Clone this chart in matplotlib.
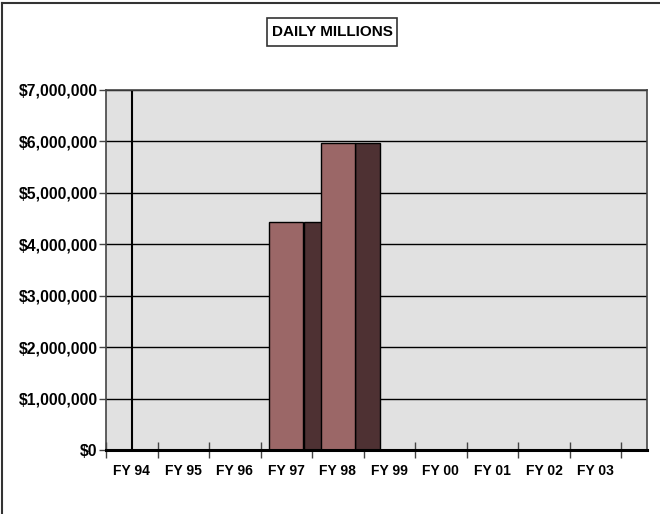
import matplotlib
matplotlib.use("Agg")
import matplotlib.pyplot as plt
from matplotlib.lines import Line2D
from matplotlib.patches import Rectangle
from matplotlib.ticker import FuncFormatter

# fiscal years on the category axis
years = ["FY 94", "FY 95", "FY 96", "FY 97", "FY 98",
         "FY 99", "FY 00", "FY 01", "FY 02", "FY 03"]
# daily millions sales, only FY 97 and FY 98 reported
sales_front = [0, 0, 0, 4440000, 5975000, 0, 0, 0, 0, 0]
sales_back = [0, 0, 0, 4440000, 5975000, 0, 0, 0, 0, 0]

plt.rcParams["font.family"] = ["Liberation Sans", "DejaVu Sans"]
plt.rcParams["font.weight"] = "bold"

fig = plt.figure(figsize=(6.6, 5.14), dpi=100)
ax = fig.add_axes([0.1606, 0.1245, 0.8197, 0.7005])
ax.set_facecolor("#e1e1e1")

x = list(range(len(years)))
# back series sits to the right and is partly hidden by the next front bar
ax.bar([i + 0.335 for i in x], sales_back, width=0.485, align="edge",
       color="#4e3133", edgecolor="black", linewidth=1, zorder=3)
ax.bar(x, sales_front, width=0.66, color="#9b6767",
       edgecolor="black", linewidth=1, zorder=4)

ax.axvline(0, color="black", linewidth=1.5, zorder=2)

ax.set_xlim(-0.5, 10.0)
ax.set_ylim(0, 7000000)
ax.set_yticks(range(0, 7000001, 1000000))
ax.yaxis.set_major_formatter(FuncFormatter(lambda v, p: "${:,.0f}".format(v)))
ax.yaxis.grid(True, color="black", linewidth=1, zorder=1)
ax.set_axisbelow(True)

ax.set_xticks([i - 0.5 for i in range(len(years) + 1)])
ax.set_xticklabels([])
ax.set_xticks(x, minor=True)
ax.set_xticklabels(years, minor=True)
ax.tick_params(axis="x", which="major", direction="inout", length=12,
               width=1, color="#444444")
ax.tick_params(axis="x", which="minor", length=0, pad=10, labelsize=10)
ax.tick_params(axis="y", direction="out", length=5, width=1,
               color="#444444", labelsize=11.3, pad=1)

for side in ["left", "top", "right"]:
    ax.spines[side].set_color("#444444")
    ax.spines[side].set_linewidth(1.2)
ax.spines["bottom"].set_color("black")
ax.spines["bottom"].set_linewidth(2.2)
ax.spines["bottom"].set_zorder(5)

# boxed title
fig.add_artist(Rectangle((0.404, 0.911), 0.198, 0.0545, facecolor="white",
                         edgecolor="#333333", linewidth=1.2,
                         transform=fig.transFigure))
fig.text(0.503, 0.938, "DAILY MILLIONS", ha="center", va="center",
         fontsize=11, fontweight="bold")

# outer frame along the top and left edge
fig.add_artist(Line2D([0.003, 1.0], [0.994, 0.994], color="#333333",
                      linewidth=1.5, transform=fig.transFigure))
fig.add_artist(Line2D([0.003, 0.003], [0.0, 0.994], color="#333333",
                      linewidth=1.5, transform=fig.transFigure))

fig.savefig("out.png", dpi=100)
